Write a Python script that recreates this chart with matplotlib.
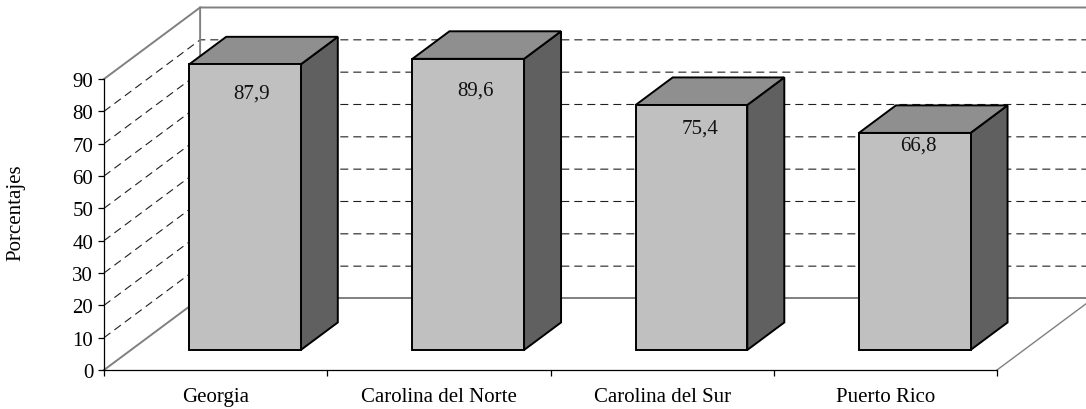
import numpy as np
import matplotlib
matplotlib.use('Agg')
import matplotlib.pyplot as plt
from matplotlib.patches import Polygon

plt.rcParams['font.family'] = ['Liberation Serif', 'DejaVu Serif']

# Data
categories = ['Georgia', 'Carolina del Norte', 'Carolina del Sur', 'Puerto Rico']
values = [87.9, 89.6, 75.4, 66.8]
value_labels = ['87,9', '89,6', '75,4', '66,8']
y_ticks = [0, 10, 20, 30, 40, 50, 60, 70, 80, 90]

# 3D look: moving one unit into the depth shifts this much in data units
DEPTH_X = 96 / 223
DEPTH_Y = 71.5 / 3.233
BAR_LEFT = 0.261
BAR_WIDTH = 0.5
BAR_FRONT = 0.28
BAR_BACK = 0.665
BAR_SCALE = 1.005
WALL_RIGHT = 4.6

# label offset from the top of the bar (points)
label_dx = [4.5, 5.5, 6.5, 2.5]
label_dy = [-20.5, -22.5, -16.5, -9]


def project(x, y, depth):
    return x + depth * DEPTH_X, y + depth * DEPTH_Y


fig = plt.figure(figsize=(10.86, 4.10), dpi=100)
ax = fig.add_axes([104 / 1086, 1 - 371 / 410, 893 / 1086, 291 / 410])
ax.set_xlim(0, 4)
ax.set_ylim(0, 90)
for side in ['top', 'right']:
    ax.spines[side].set_visible(False)
ax.spines['left'].set_linewidth(0.9)
ax.spines['bottom'].set_linewidth(0.9)
ax.spines['left'].set_zorder(2)
ax.spines['bottom'].set_zorder(2)

# Gridlines on the side wall and the back wall
for v in y_ticks[1:-1]:
    xs, ys = zip(project(0, v, 0), project(0, v, 1), project(WALL_RIGHT, v, 1))
    ax.plot(xs, ys, color='#202020', lw=0.8, dashes=(7.2, 4.5), clip_on=False, zorder=1)

# Wall and floor outlines
gray = dict(color='#808080', lw=1.4, clip_on=False, zorder=1.5)
xs, ys = zip(project(0, 90, 0), project(0, 90, 1), project(WALL_RIGHT, 90, 1))
ax.plot(xs, ys, **gray)
xs, ys = zip(project(0, 0, 0), project(0, 0, 1), project(0, 90, 1))
ax.plot(xs, ys, **gray)
xs, ys = zip(project(0, 0, 1), project(WALL_RIGHT, 0, 1))
ax.plot(xs, ys, **gray)
xs, ys = zip(project(4, 0, 0), project(4, 0, 1))
ax.plot(xs, ys, color='#808080', lw=1.0, clip_on=False, zorder=1.5)

# Bars
for i, v in enumerate(values):
    x0 = i + BAR_LEFT
    x1 = x0 + BAR_WIDTH
    top = v * BAR_SCALE
    front = [project(x0, 0, BAR_FRONT), project(x1, 0, BAR_FRONT),
             project(x1, top, BAR_FRONT), project(x0, top, BAR_FRONT)]
    lid = [project(x0, top, BAR_FRONT), project(x1, top, BAR_FRONT),
           project(x1, top, BAR_BACK), project(x0, top, BAR_BACK)]
    side = [project(x1, 0, BAR_FRONT), project(x1, 0, BAR_BACK),
            project(x1, top, BAR_BACK), project(x1, top, BAR_FRONT)]
    for pts, col in [(side, '#606060'), (lid, '#8F8F8F'), (front, '#C0C0C0')]:
        ax.add_patch(Polygon(pts, closed=True, facecolor=col, edgecolor='black',
                             lw=1.4, joinstyle='miter', clip_on=False, zorder=3))
    ax.annotate(value_labels[i], project((x0 + x1) / 2, top, BAR_FRONT),
                xytext=(label_dx[i], label_dy[i]), textcoords='offset points',
                ha='center', va='center', fontsize=15, color='#111111', zorder=4,
                annotation_clip=False)

# Axis ticks and labels
ax.set_yticks(y_ticks)
ax.set_xticks(np.arange(5))
ax.set_xticklabels([])
ax.set_xticks(np.arange(4) + 0.5, labels=categories, minor=True)
ax.tick_params(axis='y', length=4.3, width=0.9, pad=3.5, labelsize=15)
ax.tick_params(axis='x', which='major', length=4.3, width=0.9)
ax.tick_params(axis='x', which='minor', length=0, pad=12, labelsize=15)
fig.text(16 / 1086, 1 - 213 / 410, 'Porcentajes', rotation=90, fontsize=15,
         ha='center', va='center')

fig.savefig('out.png', dpi=100)
